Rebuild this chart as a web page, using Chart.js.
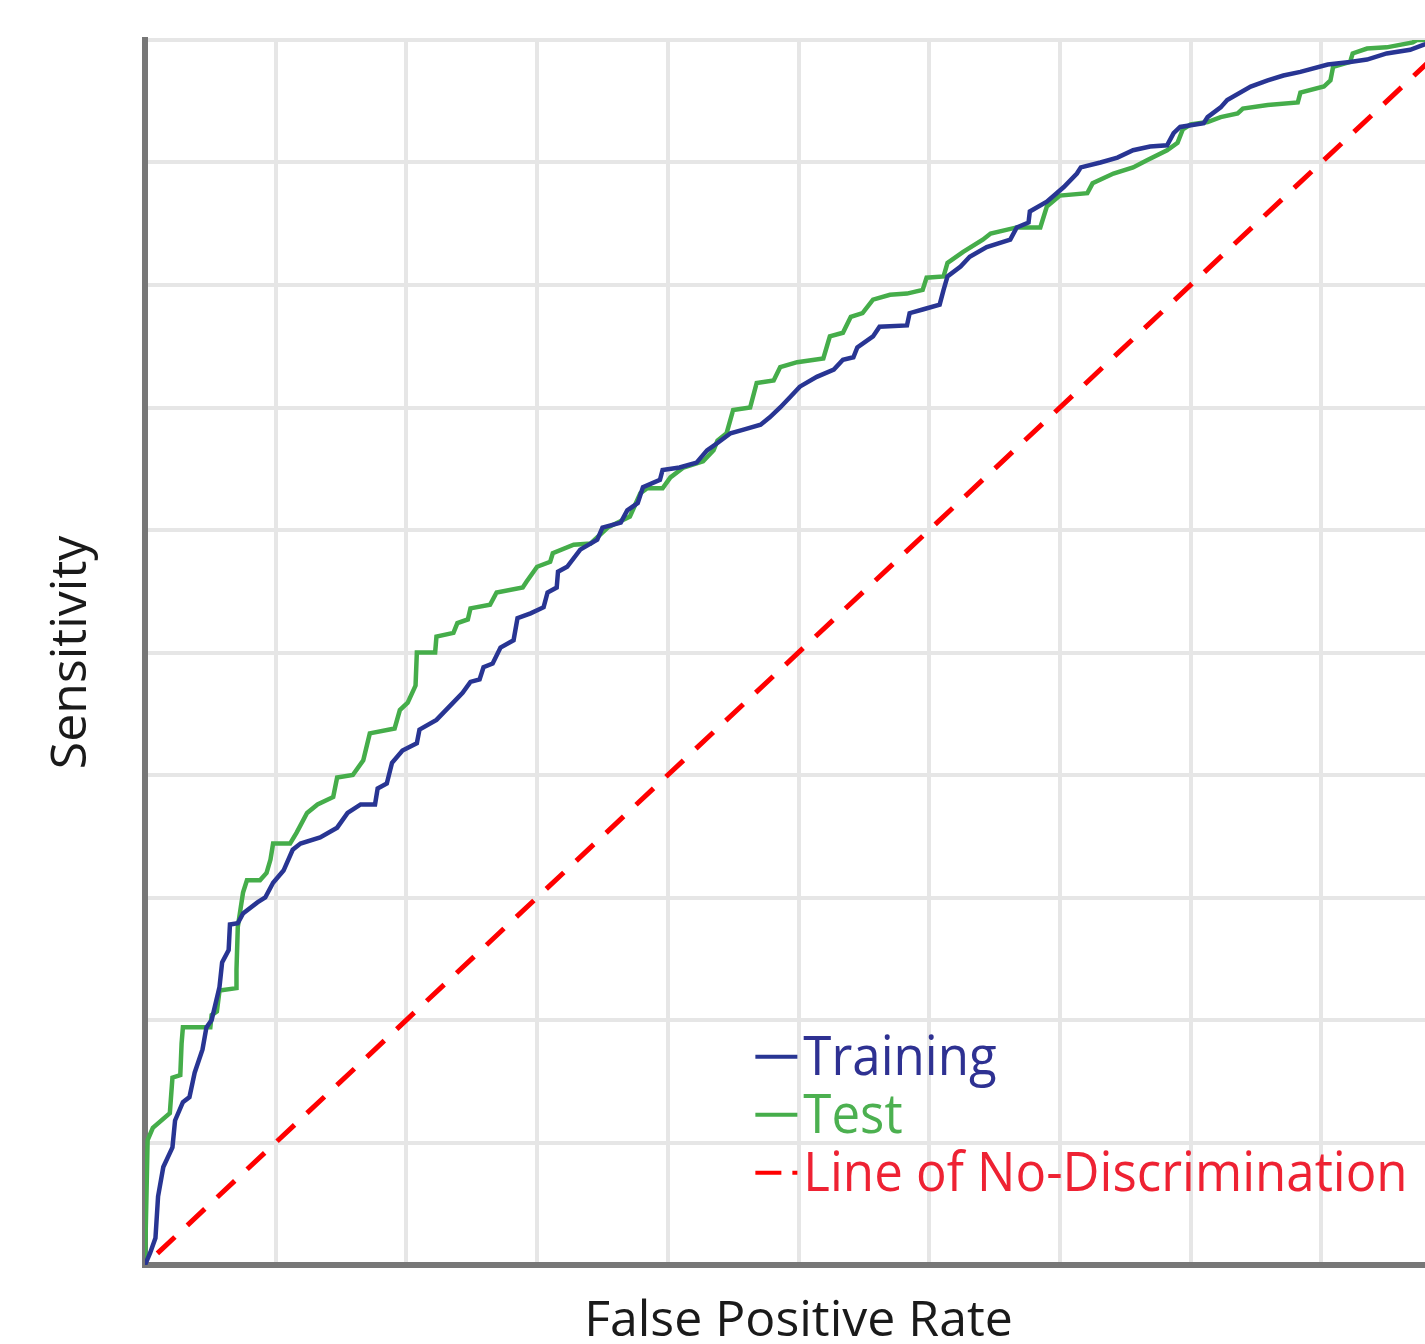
<!DOCTYPE html>
<html>
<head>
<meta charset="utf-8">
<script src="https://cdn.jsdelivr.net/npm/chart.js@4.4.1/dist/chart.umd.min.js"></script>
<style>
  html, body { margin: 0; padding: 0; background: #fff; overflow: hidden; }
  #wrap { width: 1460px; height: 1344px; }
</style>
</head>
<body>
<div id="wrap"><canvas id="roc"></canvas></div>
<script>
// ROC curve values (false positive rate vs sensitivity)
const trainFpr = [0, 0.004, 0.008, 0.010, 0.014, 0.021, 0.023, 0.029, 0.034, 0.038,
    0.044, 0.047, 0.051, 0.057, 0.059, 0.064, 0.065, 0.071, 0.075, 0.086,
    0.092, 0.098, 0.106, 0.113, 0.119, 0.134, 0.147, 0.155, 0.165, 0.176,
    0.178, 0.185, 0.189, 0.197, 0.208, 0.210, 0.223, 0.233, 0.243, 0.249,
    0.256, 0.259, 0.266, 0.272, 0.282, 0.285, 0.295, 0.305, 0.308, 0.315,
    0.316, 0.323, 0.333, 0.346, 0.350, 0.364, 0.369, 0.377, 0.381, 0.394,
    0.396, 0.409, 0.422, 0.430, 0.438, 0.448, 0.458, 0.471, 0.478, 0.486,
    0.494, 0.501, 0.514, 0.527, 0.534, 0.542, 0.545, 0.557, 0.562, 0.583,
    0.585, 0.595, 0.608, 0.611, 0.614, 0.624, 0.631, 0.644, 0.662, 0.667,
    0.676, 0.677, 0.690, 0.703, 0.713, 0.716, 0.731, 0.744, 0.756, 0.769,
    0.782, 0.787, 0.792, 0.810, 0.813, 0.823, 0.828, 0.846, 0.859, 0.871,
    0.884, 0.905, 0.922, 0.935, 0.950, 0.968, 0.978, 0.991, 1];
const trainTpr = [0, 0.010, 0.022, 0.056, 0.080, 0.096, 0.118, 0.133, 0.137, 0.157,
    0.176, 0.194, 0.200, 0.227, 0.247, 0.257, 0.278, 0.279, 0.287, 0.296,
    0.300, 0.312, 0.322, 0.339, 0.344, 0.349, 0.357, 0.369, 0.376, 0.376,
    0.389, 0.393, 0.410, 0.420, 0.426, 0.437, 0.445, 0.456, 0.467, 0.476,
    0.478, 0.488, 0.491, 0.504, 0.510, 0.528, 0.532, 0.537, 0.549, 0.553,
    0.566, 0.570, 0.584, 0.592, 0.602, 0.606, 0.616, 0.622, 0.635, 0.641,
    0.649, 0.651, 0.655, 0.665, 0.671, 0.679, 0.682, 0.686, 0.692, 0.700,
    0.709, 0.717, 0.725, 0.731, 0.739, 0.741, 0.749, 0.758, 0.766, 0.767,
    0.777, 0.780, 0.784, 0.796, 0.807, 0.815, 0.823, 0.831, 0.837, 0.847,
    0.851, 0.860, 0.868, 0.880, 0.891, 0.896, 0.900, 0.904, 0.910, 0.913,
    0.914, 0.924, 0.929, 0.932, 0.937, 0.945, 0.951, 0.962, 0.967, 0.971,
    0.974, 0.980, 0.982, 0.984, 0.989, 0.992, 0.996, 1.0, 1];

const testFpr = [0, 0.002, 0.006, 0.019, 0.021, 0.027, 0.028, 0.029, 0.050, 0.051,
    0.055, 0.057, 0.070, 0.070, 0.071, 0.073, 0.075, 0.078, 0.088, 0.093,
    0.096, 0.098, 0.111, 0.116, 0.124, 0.132, 0.144, 0.147, 0.159, 0.167,
    0.172, 0.191, 0.195, 0.201, 0.207, 0.208, 0.222, 0.223, 0.236, 0.239,
    0.247, 0.249, 0.264, 0.269, 0.289, 0.292, 0.300, 0.310, 0.312, 0.328,
    0.341, 0.354, 0.371, 0.379, 0.384, 0.396, 0.402, 0.412, 0.427, 0.435,
    0.438, 0.445, 0.450, 0.463, 0.468, 0.481, 0.486, 0.499, 0.519, 0.524,
    0.534, 0.540, 0.549, 0.557, 0.570, 0.583, 0.595, 0.598, 0.611, 0.614,
    0.626, 0.641, 0.647, 0.667, 0.685, 0.690, 0.700, 0.721, 0.725, 0.741,
    0.756, 0.767, 0.782, 0.790, 0.794, 0.800, 0.813, 0.823, 0.836, 0.840,
    0.859, 0.882, 0.884, 0.902, 0.907, 0.909, 0.922, 0.924, 0.935, 0.950,
    0.970, 0.973, 1];
const testTpr = [0, 0.102, 0.112, 0.124, 0.153, 0.155, 0.181, 0.194, 0.194, 0.204,
    0.207, 0.224, 0.226, 0.241, 0.276, 0.290, 0.304, 0.314, 0.314, 0.320,
    0.331, 0.344, 0.344, 0.353, 0.369, 0.376, 0.382, 0.398, 0.400, 0.412,
    0.434, 0.438, 0.453, 0.459, 0.473, 0.500, 0.500, 0.513, 0.516, 0.524,
    0.527, 0.536, 0.539, 0.549, 0.553, 0.558, 0.570, 0.574, 0.581, 0.588,
    0.589, 0.602, 0.611, 0.630, 0.634, 0.634, 0.643, 0.651, 0.656, 0.665,
    0.673, 0.679, 0.698, 0.700, 0.720, 0.722, 0.733, 0.737, 0.740, 0.758,
    0.761, 0.774, 0.777, 0.788, 0.792, 0.793, 0.796, 0.806, 0.807, 0.818,
    0.827, 0.837, 0.842, 0.847, 0.847, 0.864, 0.873, 0.875, 0.883, 0.891,
    0.896, 0.902, 0.910, 0.916, 0.927, 0.931, 0.933, 0.937, 0.940, 0.944,
    0.947, 0.949, 0.957, 0.962, 0.967, 0.978, 0.982, 0.989, 0.993, 0.994,
    0.998, 1.0, 1];

const diagonal = [0, 1];

const seriesLabels = ['Training', 'Test', 'Line of No-Discrimination'];
const axisTitles = { x: 'False Positive Rate', y: 'Sensitivity' };

const FONT = "'Open Sans', 'DejaVu Sans', sans-serif";

function zip(xs, ys) {
    return xs.map((v, i) => ({ x: v, y: ys[i] }));
}

// legend drawn inside the plot, bottom right, text in series colours
const rocLegend = {
    id: 'rocLegend',
    afterDatasetsDraw(chart) {
        const { ctx, scales: { x, y } } = chart;
        const x0 = x.getPixelForValue(0.467);
        const textX = x0 + 48;
        let rowY = y.getPixelForValue(0.170);
        ctx.save();
        ctx.font = '51px ' + FONT;
        ctx.textAlign = 'left';
        ctx.textBaseline = 'alphabetic';
        chart.data.datasets.forEach(ds => {
            ctx.strokeStyle = ds.borderColor;
            ctx.lineWidth = 4;
            ctx.beginPath();
            if (ds.borderDash) {
                ctx.moveTo(x0, rowY); ctx.lineTo(x0 + 26, rowY);
                ctx.moveTo(x0 + 37, rowY); ctx.lineTo(x0 + 42, rowY);
            } else {
                ctx.moveTo(x0, rowY); ctx.lineTo(x0 + 42, rowY);
            }
            ctx.stroke();
            // the source text is a little taller than wide
            ctx.save();
            ctx.translate(textX, rowY + 18);
            ctx.scale(1, 1.08);
            ctx.fillStyle = ds.legendText;
            ctx.fillText(ds.label, 0, 0);
            ctx.restore();
            rowY += 58;
        });
        ctx.restore();
    }
};

new Chart(document.getElementById('roc'), {
    type: 'line',
    data: {
        datasets: [
            {
                label: seriesLabels[0],
                data: zip(trainFpr, trainTpr),
                borderColor: '#283593',
                legendText: '#2e3192',
                borderWidth: 4.5,
                pointRadius: 0,
                tension: 0
            },
            {
                label: seriesLabels[1],
                data: zip(testFpr, testTpr),
                borderColor: '#45ad4a',
                legendText: '#4cb050',
                borderWidth: 4.5,
                pointRadius: 0,
                tension: 0
            },
            {
                label: seriesLabels[2],
                data: zip(diagonal, diagonal),
                borderColor: '#ff0000',
                legendText: '#ee2233',
                borderWidth: 5,
                borderDash: [24, 17],
                borderDashOffset: 24,
                pointRadius: 0,
                tension: 0
            }
        ]
    },
    options: {
        responsive: true,
        maintainAspectRatio: false,
        animation: false,
        layout: { padding: { top: 40, right: 8, left: 0, bottom: 0 } },
        plugins: {
            legend: { display: false },
            tooltip: { enabled: false }
        },
        scales: {
            x: {
                type: 'linear',
                min: 0,
                max: 1,
                ticks: { display: false, stepSize: 0.1 },
                grid: { color: '#e6e6e6', lineWidth: 4, drawTicks: false },
                border: { color: '#777777', width: 6 },
                title: {
                    display: true,
                    text: axisTitles.x,
                    color: '#1a1a1a',
                    font: { family: FONT, size: 50, lineHeight: 0.88 },
                    padding: { top: 0, bottom: 0 }
                },
                afterFit(scale) { scale.height = 79; }
            },
            y: {
                type: 'linear',
                min: 0,
                max: 1,
                ticks: { display: false, stepSize: 0.1 },
                grid: { color: '#e6e6e6', lineWidth: 4, drawTicks: false },
                border: { color: '#777777', width: 6 },
                title: {
                    display: true,
                    text: axisTitles.y,
                    color: '#1a1a1a',
                    font: { family: FONT, size: 50, lineHeight: 1 },
                    padding: { top: 47, bottom: 0 }
                },
                afterFit(scale) { scale.width = 145; }
            }
        }
    },
    plugins: [rocLegend]
});
</script>
</body>
</html>
